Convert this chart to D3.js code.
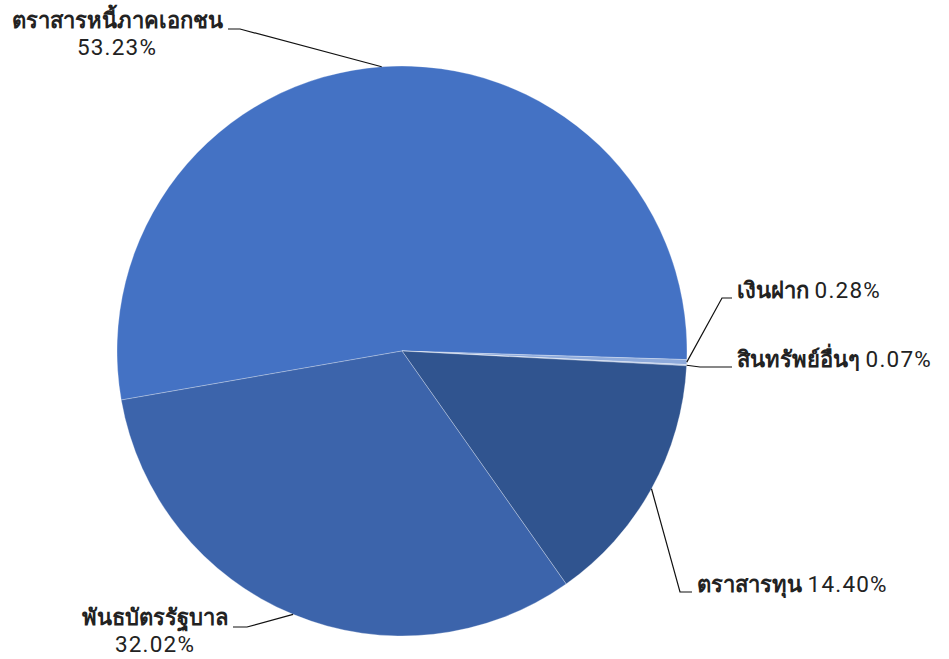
<!DOCTYPE html>
<html>
<head>
<meta charset="utf-8">
<script src="https://cdn.jsdelivr.net/npm/d3@7"></script>
<style>
  body { margin: 0; background: #fff; }
  text { font-family: Roboto, "Noto Sans", sans-serif; fill: #222; }
  .pct { letter-spacing: 1.2px; }
</style>
</head>
<body>
<div id="viz-container"></div>
<script>
// data
const categories = ["ตราสารหนี้ภาคเอกชน", "เงินฝาก", "สินทรัพย์อื่นๆ", "ตราสารทุน", "พันธบัตรรัฐบาล"];
const shares = [53.23, 0.28, 0.07, 14.40, 32.02];
const colors = ["#4472c4", "#8eaadb", "#b4c6e7", "#30548f", "#3c64ab"];

const width = 949, height = 659;
const cx = 402, cy = 351, radius = 285;

// where each label sits: elbow x, elbow y, text x, anchor, two lines or one
const labelLayout = [
  { ex: 240, ey: 29, tx: 117, ty: 28, anchor: "middle", twoLines: true, lineEnd: 228 },
  { ex: 722, ey: 298, tx: 737, ty: 298, anchor: "start", twoLines: false, lineEnd: 732 },
  { ex: 700, ey: 367, tx: 737, ty: 367, anchor: "start", twoLines: false, lineEnd: 732 },
  { ex: 680, ey: 592, tx: 697, ty: 592, anchor: "start", twoLines: false, lineEnd: 692 },
  { ex: 247, ey: 627, tx: 155, ty: 625, anchor: "middle", twoLines: true, lineEnd: 233 }
];

const svg = d3.select("#viz-container").append("svg")
    .attr("width", width).attr("height", height);

const start = 260.1 * Math.PI / 180;
const pie = d3.pie().sort(null).value(d => d)
    .startAngle(start).endAngle(start + 2 * Math.PI);
const arcs = pie(shares);
const arc = d3.arc().innerRadius(0).outerRadius(radius);

const g = svg.append("g").attr("transform", `translate(${cx},${cy})`);

g.selectAll("path")
  .data(arcs)
  .enter()
  .append("path")
  .attr("d", arc)
  .style("fill", (d, i) => colors[i])
  .style("stroke", "#ffffff")
  .style("stroke-opacity", 0.4)
  .style("stroke-width", 0.7);

// leader lines
arcs.forEach((d, i) => {
  const L = labelLayout[i];
  const a = (d.startAngle + d.endAngle) / 2;
  const px = cx + Math.sin(a) * radius, py = cy - Math.cos(a) * radius;
  svg.append("polyline")
    .attr("points", [[px, py], [L.ex, L.ey], [L.lineEnd, L.ey]].map(p => p.join(",")).join(" "))
    .style("fill", "none").style("stroke", "#111").style("stroke-width", 1.2);
});

// labels
arcs.forEach((d, i) => {
  const L = labelLayout[i];
  const pct = shares[i].toFixed(2) + "%";
  const t = svg.append("text")
    .attr("x", L.tx).attr("y", L.ty)
    .attr("text-anchor", L.anchor);
  t.append("tspan").style("font-weight", "bold").style("font-size", "22px").text(categories[i]);
  if (L.twoLines) {
    t.append("tspan").attr("class", "pct").attr("x", L.tx).attr("dy", 27)
      .style("font-size", "22.5px").text(pct);
  } else {
    t.append("tspan").style("font-size", "22.5px").text(" ");
    t.append("tspan").attr("class", "pct").style("font-size", "22.5px").text(pct);
  }
});
</script>
</body>
</html>
